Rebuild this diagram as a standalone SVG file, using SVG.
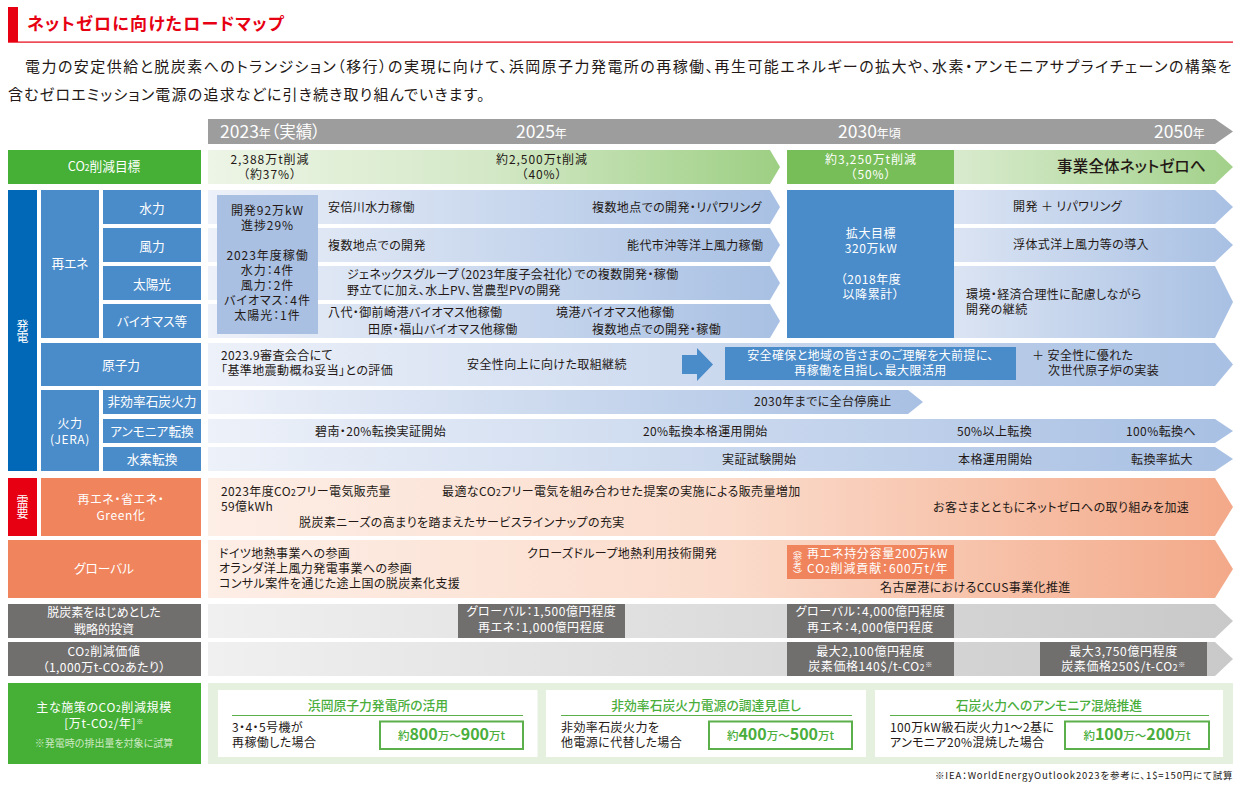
<svg xmlns="http://www.w3.org/2000/svg" width="1240" height="788" viewBox="0 0 1240 788">
<style>
text{font-family:"Noto Sans CJK JP","Noto Sans",sans-serif;font-size:12px;letter-spacing:.4px;fill:#231815;font-feature-settings:"palt";text-anchor:start}
.c{text-anchor:middle}
.w{fill:#fff}
.k{font-size:12px;letter-spacing:.95px}
.l{font-size:12.7px;letter-spacing:0;fill:#fff;text-anchor:middle}
.m{font-size:12px;letter-spacing:.6px;fill:#fff;text-anchor:middle}
.l12{font-size:12px;letter-spacing:0;fill:#fff;text-anchor:middle}
.d{font-size:12px;letter-spacing:.6px;fill:#fff;text-anchor:middle}
.v{font-size:12px;letter-spacing:0;fill:#fff;text-anchor:middle;writing-mode:vertical-rl;font-feature-settings:normal}
.y{font-size:17.5px;letter-spacing:0;fill:#fff}
.ys{font-size:12px;fill:#fff}
.yp{font-size:16.5px;fill:#fff}
.s{font-size:8.5px}
.sw{font-size:8.5px;fill:#fff}
.st{font-size:7px;fill:#fff}
.b{fill:#4a8bc9}.o{fill:#f0845c}.g{fill:#716e6e}.gr{fill:#45b035}
.h{font-size:12.8px;letter-spacing:0;fill:#4aae3c;font-weight:500;text-anchor:middle}
.n{font-size:11.5px;letter-spacing:0;fill:#4aae3c;font-weight:500;text-anchor:middle}
.nb{font-size:16px;font-weight:700;fill:#4aae3c}
.card{fill:#fff}.rule{stroke:#5bb04c;stroke-width:1}.box{fill:#fff;stroke:#5bb04c;stroke-width:2}
</style>
<defs>
<linearGradient id="gb"><stop offset="0" stop-color="#edf1f9"/><stop offset="1" stop-color="#a8c0e3"/></linearGradient>
<linearGradient id="gbr"><stop offset="0" stop-color="#dbe4f3"/><stop offset="1" stop-color="#a8c0e3"/></linearGradient>
<linearGradient id="go"><stop offset="0" stop-color="#fdeee6"/><stop offset=".5" stop-color="#fbdccc"/><stop offset="1" stop-color="#f3a989"/></linearGradient>
<linearGradient id="gg"><stop offset="0" stop-color="#edf5e6"/><stop offset=".5" stop-color="#d3e8c6"/><stop offset="1" stop-color="#9dcf83"/></linearGradient>
<linearGradient id="ggr"><stop offset="0" stop-color="#d9ebce"/><stop offset="1" stop-color="#a2d18a"/></linearGradient>
<linearGradient id="gy"><stop offset="0" stop-color="#f0f0f0"/><stop offset="1" stop-color="#c9c9c9"/></linearGradient>
</defs>

<g id="header">
<rect x="8" y="7" width="10" height="35" fill="#e60012"/>
<rect x="8" y="41.5" width="1225" height="1.2" fill="#e60012"/>
<text x="27" y="30" style="font-size:17px;font-weight:700;fill:#e60012" textLength="257">ネットゼロに向けたロードマップ</text>
<text x="25" y="72" style="font-size:15px" textLength="1207">電力の安定供給と脱炭素へのトランジション（移行）の実現に向けて、浜岡原子力発電所の再稼働、再生可能エネルギーの拡大や、水素・アンモニアサプライチェーンの構築を</text>
<text x="8" y="100" style="font-size:15px" textLength="477">含むゼロエミッション電源の追求などに引き続き取り組んでいきます。</text>
</g>

<g id="timeline">
<polygon points="208,119 1215,119 1233,131.5 1215,144 208,144" fill="#9d9d9d"/>
<text x="220" y="137.5" class="y">2023<tspan class="ys">年</tspan><tspan class="yp">（実績）</tspan></text>
<text x="516" y="137.5" class="y">2025<tspan class="ys">年</tspan></text>
<text x="838" y="137.5" class="y">2030<tspan class="ys">年頃</tspan></text>
<text x="1154" y="137.5" class="y">2050<tspan class="ys">年</tspan></text>
</g>

<g id="co2-target">
<rect x="8" y="150" width="193" height="34" class="gr"/>
<text x="104" y="171" class="l">CO<tspan class="sw">2</tspan>削減目標</text>
<polygon points="208,150 770,150 780,167 770,184 208,184" fill="url(#gg)"/>
<rect x="787" y="150" width="167" height="34" fill="#77bd58"/>
<polygon points="954,150 1215,150 1233,167 1215,184 954,184" fill="url(#ggr)"/>
<text x="270" y="164" class="c k">2,388万t削減</text><text x="270" y="179" class="c k">（約37%）</text>
<text x="542" y="164" class="c k">約2,500万t削減</text><text x="542" y="179" class="c k">（40%）</text>
<text x="871" y="164" class="c w k">約3,250万t削減</text><text x="871" y="179" class="c w k">（50%）</text>
<text x="1057" y="172" style="font-size:15.5px;font-weight:500" textLength="149">事業全体ネットゼロへ</text>
</g>

<g id="power-labels">
<rect x="8" y="190" width="29" height="281" fill="#0068b7"/>
<text x="22.500" y="331" class="v">発電</text>
<rect x="41" y="190" width="58" height="148" class="b"/>
<text x="70" y="268" class="l">再エネ</text>
<rect x="103" y="190" width="98" height="34" class="b"/><text x="152" y="213" class="l">水力</text>
<rect x="103" y="228" width="98" height="34" class="b"/><text x="152" y="251" class="l">風力</text>
<rect x="103" y="266" width="98" height="34" class="b"/><text x="152" y="289" class="l">太陽光</text>
<rect x="103" y="304" width="98" height="34" class="b"/><text x="152" y="326" class="l">バイオマス等</text>
<rect x="41" y="343" width="160" height="43" class="b"/><text x="121" y="370" class="l">原子力</text>
<rect x="41" y="390" width="58" height="81" class="b"/>
<text x="70" y="428" class="m">火力</text><text x="70" y="444" class="m">(JERA)</text>
<rect x="103" y="390" width="98" height="24" class="b"/><text x="152" y="406" class="l">非効率石炭火力</text>
<rect x="103" y="419" width="98" height="24" class="b"/><text x="152" y="436" class="l">アンモニア転換</text>
<rect x="103" y="447" width="98" height="24" class="b"/><text x="152" y="464" class="l">水素転換</text>
</g>

<g id="renewables">
<polygon points="208,190 770,190 780,207 770,224 208,224" fill="url(#gb)"/>
<polygon points="208,228 770,228 780,245 770,262 208,262" fill="url(#gb)"/>
<polygon points="208,266 770,266 780,283 770,300 208,300" fill="url(#gb)"/>
<polygon points="208,304 770,304 780,321 770,338 208,338" fill="url(#gb)"/>
<rect x="217" y="195" width="101" height="139" fill="#a9c0e2"/>
<text x="267.500" y="215" class="c k">開発92万kW</text><text x="267.500" y="230" class="c k">進捗29%</text>
<text x="267.500" y="260" class="c k">2023年度稼働</text><text x="267.500" y="275" class="c k">水力：4件</text>
<text x="267.500" y="290" class="c k">風力：2件</text><text x="267.500" y="305" class="c k">バイオマス：4件</text>
<text x="267.500" y="320" class="c k">太陽光：1件</text>
<text x="328" y="212">安倍川水力稼働</text>
<text x="592" y="212">複数地点での開発・リパワリング</text>
<text x="328" y="250">複数地点での開発</text>
<text x="627" y="250">能代市沖等洋上風力稼働</text>
<text x="347" y="279">ジェネックスグループ（2023年度子会社化）での複数開発・稼働</text>
<text x="347" y="295">野立てに加え、水上PV、営農型PVの開発</text>
<text x="328" y="317">八代・御前崎港バイオマス他稼働</text>
<text x="556" y="317">境港バイオマス他稼働</text>
<text x="368" y="334">田原・福山バイオマス他稼働</text>
<text x="592" y="334">複数地点での開発・稼働</text>
<rect x="787" y="190" width="167" height="148" class="b"/>
<text x="871" y="238" class="d">拡大目標</text><text x="871" y="253" class="d">320万kW</text>
<text x="871" y="284" class="d">（2018年度</text><text x="871" y="299" class="d">以降累計）</text>
<polygon points="954,190 1215,190 1233,207 1215,224 954,224" fill="url(#gbr)"/>
<polygon points="954,228 1215,228 1233,245 1215,262 954,262" fill="url(#gbr)"/>
<polygon points="954,266 1215,266 1233,302 1215,338 954,338" fill="url(#gbr)"/>
<text x="1013" y="211">開発 ＋ リパワリング</text>
<text x="1013" y="249">浮体式洋上風力等の導入</text>
<text x="966" y="299">環境・経済合理性に配慮しながら</text>
<text x="966" y="314">開発の継続</text>
</g>

<g id="nuclear">
<polygon points="208,343 1215,343 1233,364.500 1215,386 208,386" fill="url(#gb)"/>
<text x="221" y="360">2023.9審査会合にて</text>
<text x="221" y="375">「基準地震動概ね妥当」との評価</text>
<text x="467" y="369">安全性向上に向けた取組継続</text>
<polygon points="682,355 697,355 697,348 713,364.500 697,381 697,374 682,374" class="b"/>
<rect x="725" y="347" width="291" height="33" class="b"/>
<text x="870.500" y="360" class="c w">安全確保と地域の皆さまのご理解を大前提に、</text>
<text x="870.500" y="375" class="c w">再稼働を目指し、最大限活用</text>
<text x="1032" y="360">＋ 安全性に優れた</text>
<text x="1048" y="375">次世代原子炉の実装</text>
</g>

<g id="thermal">
<polygon points="208,390 908,390 923,402 908,414 208,414" fill="url(#gb)"/>
<polygon points="208,419 1215,419 1233,431 1215,443 208,443" fill="url(#gb)"/>
<polygon points="208,447 1215,447 1233,459 1215,471 208,471" fill="url(#gb)"/>
<text x="754" y="406">2030年までに全台停廃止</text>
<text x="315" y="436">碧南・20%転換実証開始</text>
<text x="643" y="436">20%転換本格運用開始</text>
<text x="957" y="436">50%以上転換</text>
<text x="1126" y="436">100%転換へ</text>
<text x="722" y="464">実証試験開始</text>
<text x="958" y="464">本格運用開始</text>
<text x="1131" y="464">転換率拡大</text>
</g>

<g id="demand">
<rect x="8" y="478" width="29" height="58" fill="#e60012"/>
<text x="22.500" y="507" class="v">需要</text>
<rect x="41" y="478" width="160" height="58" class="o"/>
<text x="121" y="504" class="m">再エネ・省エネ・</text><text x="121" y="520" class="m">Green化</text>
<polygon points="208,478 1215,478 1233,507 1215,536 208,536" fill="url(#go)"/>
<text x="221" y="496">2023年度CO<tspan class="s">2</tspan>フリー電気販売量</text>
<text x="221" y="511">59億kWh</text>
<text x="299" y="527">脱炭素ニーズの高まりを踏まえたサービスラインナップの充実</text>
<text x="442" y="496">最適なCO<tspan class="s">2</tspan>フリー電気を組み合わせた提案の実施による販売量増加</text>
<text x="933" y="512">お客さまとともにネットゼロへの取り組みを加速</text>
</g>

<g id="global">
<rect x="8" y="540" width="193" height="58" class="o"/>
<text x="104" y="573" class="l">グローバル</text>
<polygon points="208,540 1215,540 1233,569 1215,598 208,598" fill="url(#go)"/>
<text x="219" y="558">ドイツ地熱事業への参画</text>
<text x="219" y="573">オランダ洋上風力発電事業への参画</text>
<text x="219" y="588">コンサル案件を通じた途上国の脱炭素化支援</text>
<text x="527" y="558">クローズドループ地熱利用技術開発</text>
<rect x="787" y="545" width="167" height="34" class="o"/>
<text x="797.500" y="562" class="v" style="font-size:9px;letter-spacing:-.5px">（参考）</text>
<text x="807" y="558" class="w" textLength="141">再エネ持分容量200万kW</text>
<text x="807" y="573" class="w" textLength="141">CO<tspan class="sw">2</tspan>削減貢献：600万t/年</text>
<text x="880" y="592">名古屋港におけるCCUS事業化推進</text>
</g>

<g id="investment">
<rect x="8" y="604" width="193" height="34" class="g"/>
<text x="104" y="617" class="l12">脱炭素をはじめとした</text><text x="104" y="634" class="l12">戦略的投資</text>
<polygon points="208,604 1215,604 1233,621 1215,638 208,638" fill="url(#gy)"/>
<rect x="458" y="604" width="167" height="34" class="g"/>
<text x="541.500" y="616" class="d">グローバル：1,500億円程度</text><text x="541.500" y="632" class="d">再エネ：1,000億円程度</text>
<rect x="787" y="604" width="167" height="34" class="g"/>
<text x="870.500" y="616" class="d">グローバル：4,000億円程度</text><text x="870.500" y="632" class="d">再エネ：4,000億円程度</text>
</g>

<g id="co2-value">
<rect x="8" y="642" width="193" height="34" class="g"/>
<text x="104" y="656" class="m">CO<tspan class="sw">2</tspan>削減価値</text>
<text x="104" y="672" class="l12" textLength="123">（1,000万t-CO<tspan class="sw">2</tspan>あたり）</text>
<polygon points="208,642 1215,642 1233,659 1215,676 208,676" fill="url(#gy)"/>
<rect x="787" y="642" width="167" height="34" class="g"/>
<text x="870.500" y="656" class="d">最大2,100億円程度</text>
<text x="870.500" y="671" class="d">炭素価格140$/t-CO<tspan class="sw">2</tspan><tspan class="st" dy="-4">※</tspan></text>
<rect x="1040" y="642" width="167" height="34" class="g"/>
<text x="1123.500" y="656" class="d">最大3,750億円程度</text>
<text x="1123.500" y="671" class="d">炭素価格250$/t-CO<tspan class="sw">2</tspan><tspan class="st" dy="-4">※</tspan></text>
</g>

<g id="scale">
<rect x="8" y="683" width="193" height="81" class="gr"/>
<text x="104" y="712" class="m">主な施策のCO<tspan class="sw">2</tspan>削減規模</text>
<text x="104" y="728" class="m">[万t-CO<tspan class="sw">2</tspan>/年]<tspan class="st" dy="-4">※</tspan></text>
<text x="104" y="747" class="l" style="font-size:10px;fill:#cfe9c5">※発電時の排出量を対象に試算</text>
<rect x="208" y="683" width="1025" height="81" fill="#e5f1de"/>
</g>
<g id="card1">
<rect x="218" y="690" width="319.500" height="67" class="card"/>
<text x="378" y="710" class="h">浜岡原子力発電所の活用</text>
<line x1="232" y1="715.500" x2="523" y2="715.500" class="rule"/>
<text x="232" y="732">3・4・5号機が</text><text x="232" y="747">再稼働した場合</text>
<rect x="380" y="721.500" width="143" height="27.500" class="box"/>
<text x="451.500" y="740" class="n">約<tspan class="nb">800</tspan>万～<tspan class="nb">900</tspan>万t</text>
</g>
<g id="card2">
<rect x="546" y="690" width="320" height="67" class="card"/>
<text x="706" y="710" class="h">非効率石炭火力電源の調達見直し</text>
<line x1="561" y1="715.500" x2="852" y2="715.500" class="rule"/>
<text x="561" y="732">非効率石炭火力を</text><text x="561" y="747">他電源に代替した場合</text>
<rect x="709" y="721.500" width="143" height="27.500" class="box"/>
<text x="780.500" y="740" class="n">約<tspan class="nb">400</tspan>万～<tspan class="nb">500</tspan>万t</text>
</g>
<g id="card3">
<rect x="875" y="690" width="348" height="67" class="card"/>
<text x="1049" y="710" class="h">石炭火力へのアンモニア混焼推進</text>
<line x1="890" y1="715.500" x2="1209" y2="715.500" class="rule"/>
<text x="890" y="732">100万kW級石炭火力1～2基に</text><text x="890" y="747">アンモニア20%混焼した場合</text>
<rect x="1065" y="721.500" width="144" height="27.500" class="box"/>
<text x="1137" y="740" class="n">約<tspan class="nb">100</tspan>万～<tspan class="nb">200</tspan>万t</text>
</g>
<text x="935" y="779" style="font-size:9.500px" textLength="298">※IEA：WorldEnergyOutlook2023を参考に、1$=150円にて試算</text>
</svg>
